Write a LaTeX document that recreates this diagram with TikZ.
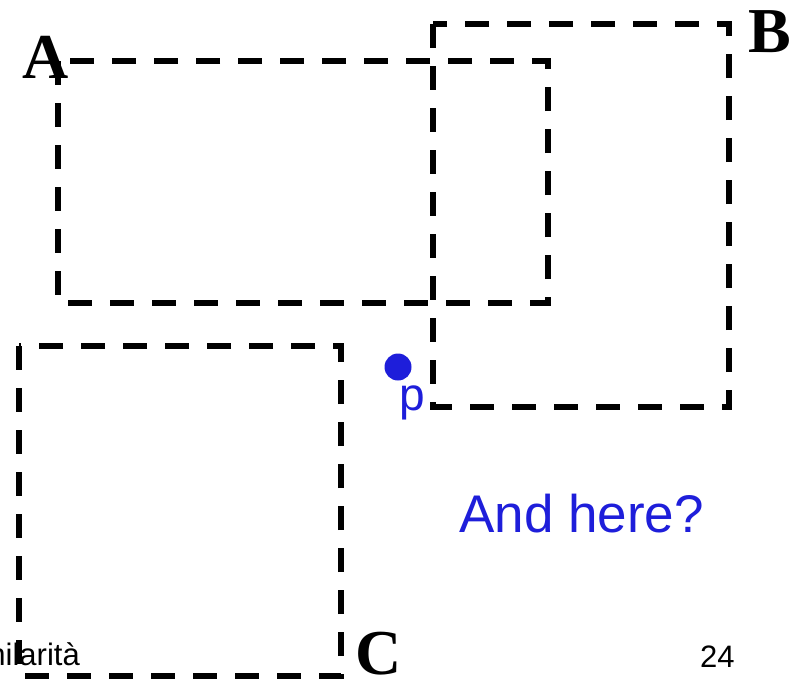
\documentclass[tikz,border=0pt]{standalone}
\usepackage{fontspec}
\setmainfont{Liberation Serif}
\newfontfamily\arialfont{Liberation Sans}
\definecolor{pblue}{RGB}{30,30,218}

\begin{document}
\begin{tikzpicture}[x=1pt, y=-1pt,
  region/.style={draw=black, line width=6pt, dash pattern=on 24pt off 18pt},
  corner/.style={font=\fontsize{64}{64}\selectfont\bfseries, inner sep=0pt, anchor=base west},
  bluetext/.style={text=pblue, font=\arialfont\fontsize{53}{53}\selectfont, inner sep=0pt, anchor=base west},
  footer/.style={font=\arialfont\fontsize{31}{31}\selectfont, inner sep=0pt},
  dot/.style={circle, fill=pblue, minimum size=27pt, inner sep=0pt}
]

\useasboundingbox (0,0) rectangle (800,678);
\clip (0,0) rectangle (800,678);

% the three regions
\draw[region] (58,61) rectangle (548,303);
\draw[region] (433,24) rectangle (729,407);
\draw[region] (19,346) rectangle (341,676);

\node[corner] (labA) at (22,78) {A};
\node[corner] (labB) at (748,52) {B};
\node[corner] (labC) at (355,674) {C};

% the point
\node[dot] (pt) at (398,367) {};
\node[bluetext, font=\arialfont\fontsize{46}{46}\selectfont] (labp) at (399,410) {p};
\node[bluetext] (question) at (459,532) {And here?};

\node[footer, anchor=base east] (title) at (80,665) {Similarità};
\node[footer, anchor=base west] (page) at (700,667) {24};

\end{tikzpicture}
\end{document}
